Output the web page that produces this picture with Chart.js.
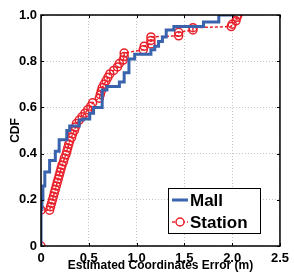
<!DOCTYPE html>
<html>
<head>
<meta charset="utf-8">
<script src="https://cdn.jsdelivr.net/npm/chart.js@4"></script>
<style>
  html, body { margin: 0; padding: 0; background: #fff; }
  #wrap { width: 294px; height: 273px; position: relative; }
</style>
</head>
<body>
<div id="wrap"><canvas id="c"></canvas></div>
<script>
// Mall: empirical CDF steps (x = error in m, y = cdf after the step)
const mallX = [0, 0.01, 0.02, 0.04, 0.09, 0.15, 0.19, 0.27, 0.30, 0.40, 0.44, 0.51, 0.55, 0.64, 0.69, 0.82, 0.87, 0.92, 0.98, 1.15, 1.19, 1.23, 1.27, 1.31, 1.39, 1.70, 1.86, 2.02];
const mallY = [0, 0.16, 0.20, 0.26, 0.32, 0.37, 0.41, 0.46, 0.50, 0.52, 0.545, 0.55, 0.575, 0.60, 0.675, 0.69, 0.71, 0.75, 0.81, 0.83, 0.85, 0.865, 0.885, 0.905, 0.935, 0.95, 0.97, 1.0];

// Station: markers
const stationX = [0, 0, 0.09, 0.10, 0.11, 0.12, 0.13, 0.14, 0.15, 0.16, 0.17, 0.18, 0.19, 0.20, 0.21, 0.22, 0.235, 0.245, 0.26, 0.27, 0.28, 0.29, 0.30, 0.32, 0.33, 0.35, 0.36, 0.37, 0.40, 0.43, 0.46, 0.49, 0.52, 0.54, 0.61, 0.62, 0.63, 0.64, 0.66, 0.68, 0.70, 0.72, 0.76, 0.80, 0.82, 0.86, 0.87, 0.87, 1.07, 1.08, 1.15, 1.15, 1.15, 1.44, 1.44, 1.59, 1.59, 1.99, 2.00, 2.04, 2.05, 2.06];
const stationY = [0, 0.155, 0.155, 0.17, 0.185, 0.20, 0.215, 0.23, 0.245, 0.26, 0.275, 0.29, 0.305, 0.32, 0.335, 0.35, 0.365, 0.38, 0.395, 0.41, 0.425, 0.44, 0.455, 0.47, 0.485, 0.50, 0.515, 0.53, 0.545, 0.56, 0.575, 0.59, 0.605, 0.62, 0.64, 0.655, 0.67, 0.685, 0.70, 0.715, 0.73, 0.745, 0.76, 0.775, 0.79, 0.805, 0.82, 0.835, 0.85, 0.865, 0.875, 0.89, 0.905, 0.91, 0.925, 0.935, 0.945, 0.95, 0.96, 0.975, 0.99, 1.0];

const xTicks = [0, 0.5, 1, 1.5, 2, 2.5];
const yTicks = [0, 0.2, 0.4, 0.6, 0.8, 1];

const blue = '#3a63ae';
const red = '#e8212b';
const FONT = '"Liberation Sans", Arial, sans-serif';

function pts(xs, ys) {
  return xs.map((x, i) => ({ x: x, y: ys[i] }));
}

// legend box inside the plot, bottom right, plus the frame around the axes
const boxLegend = {
  id: 'boxLegend',
  afterDraw(chart) {
    const ctx = chart.ctx;
    const a = chart.chartArea;
    ctx.save();
    ctx.strokeStyle = '#000';
    ctx.lineWidth = 1.5;
    ctx.strokeRect(a.left, a.top, a.right - a.left, a.bottom - a.top);

    // small inward tick marks like matlab
    ctx.lineWidth = 1;
    const xs = chart.scales.x, ys = chart.scales.y;
    xTicks.forEach(v => {
      const px = Math.round(xs.getPixelForValue(v)) + 0.5;
      ctx.beginPath();
      ctx.moveTo(px, a.bottom); ctx.lineTo(px, a.bottom - 3);
      ctx.moveTo(px, a.top); ctx.lineTo(px, a.top + 3);
      ctx.stroke();
    });
    yTicks.forEach(v => {
      const py = Math.round(ys.getPixelForValue(v)) + 0.5;
      ctx.beginPath();
      ctx.moveTo(a.left, py); ctx.lineTo(a.left + 3, py);
      ctx.moveTo(a.right, py); ctx.lineTo(a.right - 3, py);
      ctx.stroke();
    });

    const bx = 168, by = 188, bw = 92, bh = 45;
    ctx.fillStyle = '#fff';
    ctx.fillRect(bx, by, bw, bh);
    ctx.lineWidth = 1;
    ctx.strokeRect(bx + 0.5, by + 0.5, bw, bh);

    const ds = chart.data.datasets;
    const rows = [200, 222];
    ds.forEach((d, i) => {
      const y = rows[i];
      ctx.strokeStyle = d.borderColor;
      ctx.lineWidth = d.borderWidth;
      ctx.setLineDash(d.borderDash || []);
      ctx.beginPath();
      ctx.moveTo(172, y);
      ctx.lineTo(188, y);
      ctx.stroke();
      ctx.setLineDash([]);
      if (d.pointRadius > 0) {
        ctx.lineWidth = d.pointBorderWidth;
        ctx.strokeStyle = d.pointBorderColor;
        ctx.fillStyle = '#fff';
        ctx.beginPath();
        ctx.arc(180, y, d.pointRadius, 0, Math.PI * 2);
        ctx.fill();
        ctx.stroke();
      }
      ctx.fillStyle = '#000';
      ctx.font = 'bold 17px ' + FONT;
      ctx.textBaseline = 'middle';
      ctx.textAlign = 'left';
      ctx.fillText(d.label, 190, y + 1);
    });
    ctx.restore();
  }
};

new Chart(document.getElementById('c'), {
  type: 'line',
  data: {
    datasets: [
      {
        label: 'Mall',
        data: pts(mallX, mallY),
        borderColor: blue,
        borderWidth: 3,
        stepped: 'after',
        pointRadius: 0,
        fill: false
      },
      {
        label: 'Station',
        data: pts(stationX, stationY),
        borderColor: red,
        borderWidth: 1.5,
        borderDash: [3, 2],
        pointRadius: 4,
        pointBorderWidth: 1.5,
        pointBorderColor: red,
        pointBackgroundColor: 'rgba(0,0,0,0)',
        fill: false
      }
    ]
  },
  options: {
    responsive: true,
    maintainAspectRatio: false,
    animation: false,
    layout: { padding: { top: 15, right: 12, left: 0, bottom: 0 } },
    plugins: { legend: { display: false }, tooltip: { enabled: false } },
    scales: {
      x: {
        type: 'linear',
        min: 0, max: 2.5,
        afterFit: s => { s.height = 27; },
        afterBuildTicks: s => { s.ticks = xTicks.map(v => ({ value: v })); },
        grid: { color: '#c4c4c4', drawTicks: false },
        border: { display: false, dash: [1, 2] },
        ticks: { color: '#000', padding: 5, maxRotation: 0, font: { family: FONT, size: 13, weight: 'bold' } },
        title: { display: true, text: 'Estimated Coordinates Error (m)', color: '#000', padding: 0, font: { family: FONT, size: 12, weight: 'bold' } }
      },
      y: {
        type: 'linear',
        min: 0, max: 1,
        afterFit: s => { s.width = 41; },
        afterBuildTicks: s => { s.ticks = yTicks.map(v => ({ value: v })); },
        grid: { color: '#c4c4c4', drawTicks: false },
        border: { display: false, dash: [1, 2] },
        ticks: { color: '#000', padding: 4, font: { family: FONT, size: 13, weight: 'bold' } },
        title: { display: true, text: 'CDF', color: '#000', padding: { top: 8, bottom: 0 }, font: { family: FONT, size: 12, weight: 'bold' } }
      }
    }
  },
  plugins: [boxLegend]
});
</script>
</body>
</html>
